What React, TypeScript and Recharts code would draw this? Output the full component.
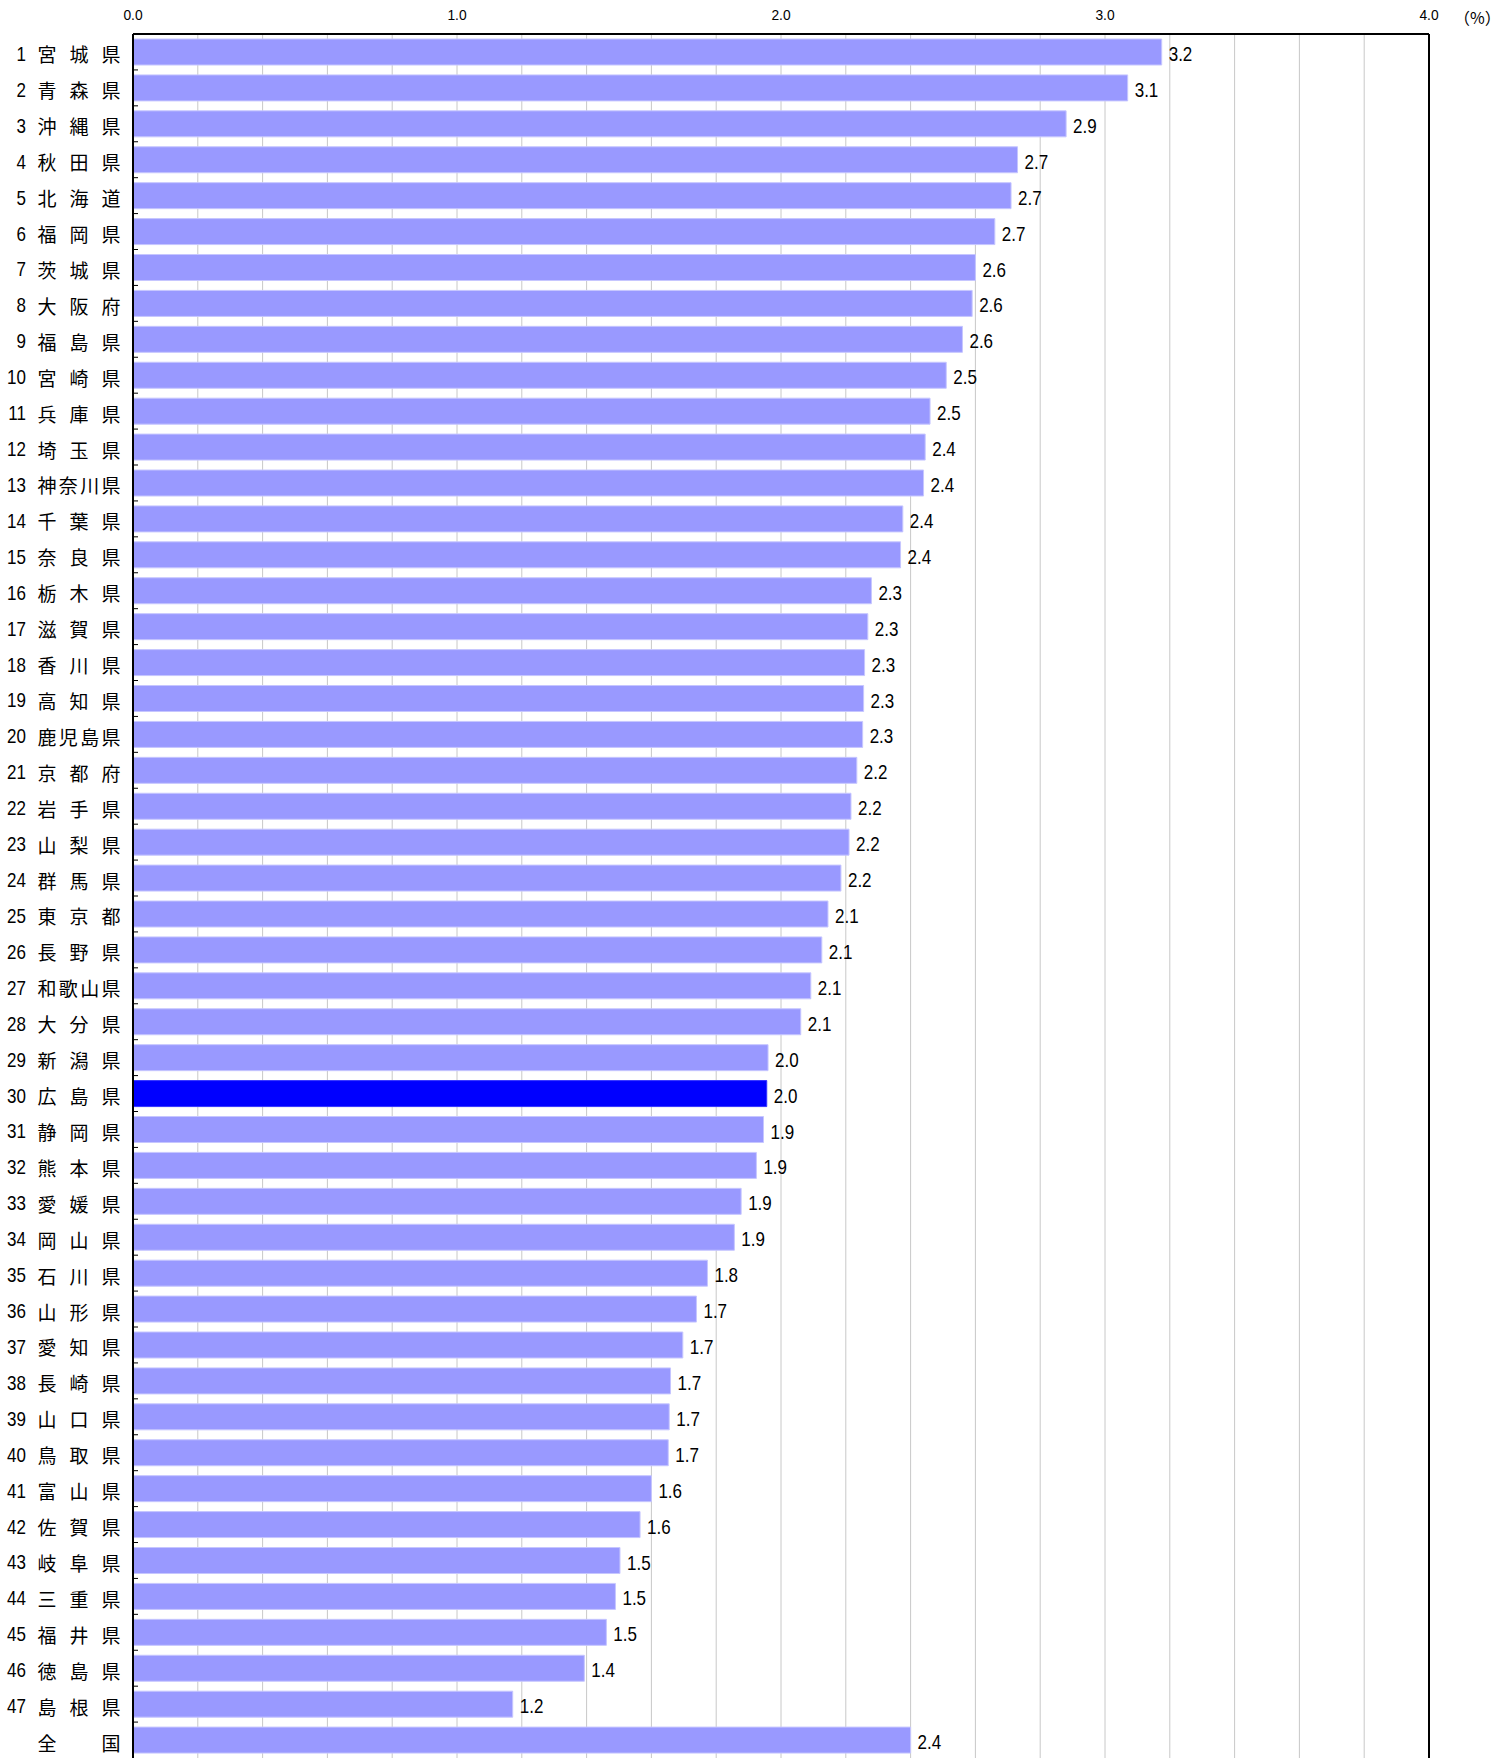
import React from 'react';
import { BarChart, Bar, XAxis, YAxis, CartesianGrid, ReferenceLine, LabelList, Cell } from 'recharts';

const ranks: string[] = [
  '1','2','3','4','5','6','7','8','9','10','11','12','13','14','15','16','17','18','19','20',
  '21','22','23','24','25','26','27','28','29','30','31','32','33','34','35','36','37','38','39','40',
  '41','42','43','44','45','46','47','',
];

const prefectures: string[] = [
  '宮城県','青森県','沖縄県','秋田県','北海道','福岡県','茨城県','大阪府','福島県','宮崎県',
  '兵庫県','埼玉県','神奈川県','千葉県','奈良県','栃木県','滋賀県','香川県','高知県','鹿児島県',
  '京都府','岩手県','山梨県','群馬県','東京都','長野県','和歌山県','大分県','新潟県','広島県',
  '静岡県','熊本県','愛媛県','岡山県','石川県','山形県','愛知県','長崎県','山口県','鳥取県',
  '富山県','佐賀県','岐阜県','三重県','福井県','徳島県','島根県','全国',
];

const values: number[] = [
  3.175, 3.07, 2.88, 2.73, 2.71, 2.66, 2.6, 2.59, 2.56, 2.51,
  2.46, 2.445, 2.44, 2.376, 2.369, 2.279, 2.268, 2.258, 2.255, 2.252,
  2.234, 2.216, 2.21, 2.185, 2.145, 2.126, 2.092, 2.061, 1.96, 1.956,
  1.946, 1.924, 1.877, 1.856, 1.773, 1.739, 1.697, 1.659, 1.655, 1.652,
  1.6, 1.565, 1.503, 1.489, 1.461, 1.393, 1.172, 2.4,
];

const highlight = '広島県';
const xTicks: number[] = [0, 0.2, 0.4, 0.6, 0.8, 1, 1.2, 1.4, 1.6, 1.8, 2, 2.2, 2.4, 2.6, 2.8, 3, 3.2, 3.4, 3.6, 3.8, 4];
const majorLines: number[] = [1, 2, 3];
const tickLabels: string[] = ['0.0', '1.0', '2.0', '3.0', '4.0'];
const unitLabel = '（%）';

const data = prefectures.map((name, i) => ({ name, rank: ranks[i], value: values[i] }));

const NUM_FONT = "'Liberation Sans', Arial, sans-serif";
const JP_FONT = "'Noto Sans CJK JP', 'Noto Sans', sans-serif";

const XTick = (props: any) => {
  const { x, payload } = props;
  const v = payload.value;
  if (!Number.isInteger(v)) return null;
  return (
    <text transform={`translate(${x},15) scale(0.92,1)`} x={0} y={0} textAnchor="middle" dominantBaseline="central" fontSize={15} fontFamily={NUM_FONT} fill="#000">
      {tickLabels[v]}
    </text>
  );
};

const YTick = (props: any) => {
  const { y, payload, index } = props;
  const name: string = payload.value;
  const i = typeof index === 'number' ? index : prefectures.indexOf(name);
  const rank = ranks[i] ?? '';
  const chars = Array.from(name);
  const first = 47;
  const last = 111;
  const step = chars.length > 1 ? (last - first) / (chars.length - 1) : 0;
  const cy = y + 2;
  return (
    <g>
      <text transform={`translate(26,${cy}) scale(0.85,1)`} x={0} y={0} textAnchor="end" dominantBaseline="central" fontSize={20} fontFamily={NUM_FONT} fill="#000">
        {rank}
      </text>
      {chars.map((c, k) => (
        <text key={k} x={first + k * step} y={cy} textAnchor="middle" dominantBaseline="central" fontSize={19} fontFamily={JP_FONT} fill="#000">
          {c}
        </text>
      ))}
      {i > 0 ? <line x1={133} x2={138} y1={y - 17.95} y2={y - 17.95} stroke="#000" strokeWidth={1} /> : null}
    </g>
  );
};

const ValueLabel = (props: any) => {
  const { x, y, width, height, value } = props;
  const tx = x + width + 7;
  const ty = y + height / 2 + 2;
  return (
    <text transform={`translate(${tx},${ty}) scale(0.85,1)`} x={0} y={0} dominantBaseline="central" fontSize={20} fontFamily={NUM_FONT} fill="#000">
      {Number(value).toFixed(1)}
    </text>
  );
};

const majorGen = (args: any) => {
  const scale = args?.xAxis?.scale;
  if (typeof scale !== 'function') return [];
  return majorLines.map((v) => scale(v));
};

export default function App() {
  return (
    <div style={{ position: 'absolute', left: 0, top: 0, width: 1505, height: 1758, background: '#fff' }}>
      <BarChart
        width={1505}
        height={1758}
        data={data}
        layout="vertical"
        margin={{ top: 0, right: 76, bottom: 0, left: 0 }}
        barSize={26}
      >
        <CartesianGrid horizontal={false} stroke="#c8c8c8" strokeWidth={1} />
        <CartesianGrid horizontal={false} stroke="#7f7f7f" strokeWidth={1} verticalCoordinatesGenerator={majorGen} />
        <XAxis
          type="number"
          orientation="top"
          domain={[0, 4]}
          ticks={xTicks}
          interval={0}
          height={34}
          axisLine={{ stroke: '#000', strokeWidth: 2 }}
          tickLine={false}
          tick={<XTick />}
          allowDataOverflow
        />
        <YAxis
          type="category"
          dataKey="name"
          width={133}
          interval={0}
          axisLine={{ stroke: '#000', strokeWidth: 2 }}
          tickLine={false}
          tick={<YTick />}
        />
        <ReferenceLine x={4} stroke="#000" strokeWidth={2} />
        <Bar dataKey="value" isAnimationActive={false} fill="#9999ff" stroke="#c6c6ff" strokeWidth={1}>
          {data.map((d, i) => (
            <Cell key={i} fill={d.name === highlight ? '#0000ff' : '#9999ff'} stroke={d.name === highlight ? '#3333ff' : '#c6c6ff'} />
          ))}
          <LabelList dataKey="value" content={<ValueLabel />} />
        </Bar>
      </BarChart>
      <div style={{ position: 'absolute', left: 1454, top: 7, fontSize: 16, fontFamily: JP_FONT, color: '#000', lineHeight: '20px', whiteSpace: 'nowrap' }}>
        {unitLabel}
      </div>
    </div>
  );
}
